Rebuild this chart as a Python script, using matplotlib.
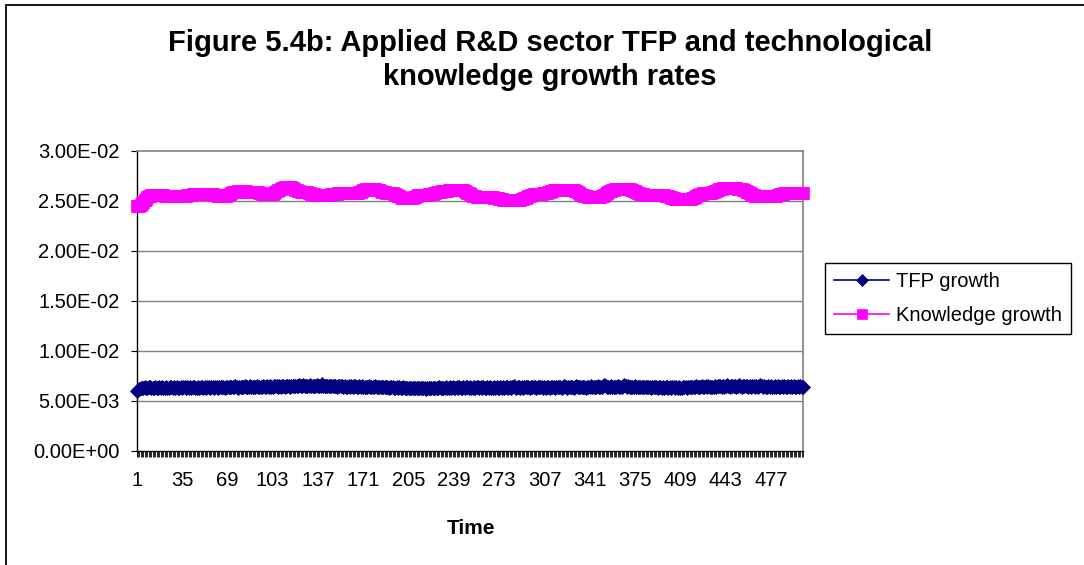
import matplotlib
matplotlib.use("Agg")
import matplotlib.pyplot as plt
from matplotlib.patches import Rectangle

plt.rcParams['font.family'] = ['Liberation Sans', 'DejaVu Sans']

# ---------------- data (growth rates in units of 1e-4) ----------------
time = list(range(1, 502))

knowledge_growth_1e4 = [
    244.5, 244.5, 245.0, 246.0, 247.5, 249.0, 250.5, 252.0, 253.5, 254.5, 255.0, 255.5, 255.8, 256.0, 256.0, 255.8, 255.6, 255.5, 255.5, 255.4,
    255.3, 255.2, 255.0, 254.9, 254.8, 254.7, 254.6, 254.6, 254.5, 254.5, 254.5, 254.6, 254.6, 254.7, 254.8, 254.9, 255.0, 255.2, 255.4, 255.6,
    255.9, 256.2, 256.5, 256.8, 257.0, 257.1, 257.2, 257.2, 257.2, 257.1, 257.0, 257.0, 257.1, 257.2, 257.2, 257.0, 256.8, 256.5, 256.2, 255.8,
    255.5, 255.2, 255.0, 254.9, 254.8, 254.8, 254.9, 255.1, 255.5, 256.0, 256.8, 257.6, 258.3, 258.8, 259.1, 259.2, 259.3, 259.3, 259.2, 259.2,
    259.2, 259.3, 259.3, 259.2, 259.1, 259.0, 259.0, 259.1, 259.2, 259.1, 258.9, 258.5, 258.0, 257.5, 257.0, 256.7, 256.5, 256.4, 256.4, 256.5,
    256.6, 256.8, 257.2, 257.8, 258.6, 259.5, 260.3, 261.0, 261.8, 262.6, 263.2, 263.6, 263.9, 264.0, 264.0, 263.8, 263.4, 262.8, 262.0, 261.2,
    260.4, 259.8, 259.4, 259.2, 259.1, 259.0, 258.9, 258.7, 258.4, 258.0, 257.5, 257.0, 256.6, 256.3, 256.1, 256.0, 255.9, 255.9, 256.0, 256.0,
    256.0, 255.9, 255.9, 256.0, 256.1, 256.2, 256.3, 256.5, 256.7, 256.9, 257.1, 257.3, 257.4, 257.5, 257.6, 257.6, 257.5, 257.5, 257.6, 257.7,
    257.8, 257.8, 257.7, 257.6, 257.6, 257.7, 258.0, 258.5, 259.1, 259.8, 260.5, 261.0, 261.4, 261.6, 261.7, 261.7, 261.6, 261.5, 261.4, 261.3,
    261.1, 260.8, 260.4, 259.8, 259.2, 258.7, 258.3, 258.1, 258.0, 258.0, 257.9, 257.8, 257.6, 257.2, 256.7, 256.0, 255.2, 254.4, 253.7, 253.1,
    252.7, 252.5, 252.4, 252.4, 252.5, 252.6, 252.8, 253.1, 253.6, 254.2, 254.8, 255.4, 255.8, 256.0, 256.1, 256.1, 256.0, 256.0, 256.1, 256.3,
    256.5, 256.8, 257.2, 257.7, 258.2, 258.6, 258.9, 259.1, 259.2, 259.3, 259.4, 259.6, 259.8, 260.1, 260.4, 260.7, 260.9, 261.0, 261.1, 261.1,
    261.1, 261.0, 260.9, 260.8, 260.6, 260.3, 259.8, 259.1, 258.2, 257.3, 256.5, 255.8, 255.2, 254.7, 254.3, 254.0, 253.9, 253.8, 253.8, 253.9,
    254.0, 254.0, 254.0, 253.9, 253.8, 253.7, 253.6, 253.4, 253.2, 252.9, 252.6, 252.3, 252.0, 251.7, 251.4, 251.2, 251.0, 250.9, 250.9, 250.9,
    251.0, 251.0, 251.1, 251.1, 251.0, 250.9, 250.9, 251.0, 251.2, 251.5, 251.9, 252.4, 253.0, 253.6, 254.3, 255.0, 255.6, 256.1, 256.5, 256.8,
    257.0, 257.1, 257.2, 257.2, 257.2, 257.3, 257.5, 257.8, 258.2, 258.7, 259.2, 259.7, 260.1, 260.4, 260.6, 260.8, 260.9, 261.0, 261.0, 261.1,
    261.1, 261.1, 261.0, 261.0, 260.9, 260.9, 260.8, 260.6, 260.3, 259.9, 259.3, 258.6, 257.8, 257.0, 256.2, 255.5, 255.0, 254.6, 254.3, 254.1,
    254.0, 253.9, 253.9, 254.0, 254.0, 253.9, 253.9, 254.0, 254.2, 254.6, 255.2, 256.0, 256.9, 257.8, 258.7, 259.5, 260.2, 260.7, 261.1, 261.4,
    261.6, 261.7, 261.7, 261.6, 261.5, 261.5, 261.6, 261.7, 261.7, 261.6, 261.4, 261.1, 260.6, 260.0, 259.3, 258.6, 257.9, 257.3, 256.8, 256.5,
    256.3, 256.1, 256.0, 255.9, 255.9, 256.0, 256.0, 256.0, 255.9, 255.9, 256.0, 256.0, 256.0, 255.9, 255.8, 255.7, 255.5, 255.2, 254.9, 254.5,
    254.1, 253.6, 253.1, 252.6, 252.2, 251.9, 251.7, 251.6, 251.5, 251.5, 251.6, 251.6, 251.5, 251.5, 251.6, 251.8, 252.1, 252.6, 253.2, 253.9,
    254.6, 255.3, 256.0, 256.6, 257.1, 257.4, 257.5, 257.5, 257.6, 257.7, 257.8, 258.1, 258.5, 259.0, 259.6, 260.2, 260.8, 261.3, 261.8, 262.2,
    262.5, 262.6, 262.7, 262.6, 262.5, 262.5, 262.5, 262.6, 262.6, 262.5, 262.4, 262.2, 262.0, 261.7, 261.4, 261.0, 260.5, 259.9, 259.2, 258.4,
    257.6, 256.8, 256.1, 255.5, 255.0, 254.7, 254.5, 254.4, 254.4, 254.5, 254.5, 254.4, 254.4, 254.5, 254.6, 254.6, 254.5, 254.5, 254.6, 254.8,
    255.1, 255.5, 256.0, 256.5, 256.9, 257.2, 257.4, 257.5, 257.5, 257.4, 257.4, 257.5, 257.6, 257.6, 257.5, 257.5, 257.6, 257.7, 257.7, 257.6,
    257.6,
]

tfp_growth_1e4 = [
    60.0, 60.8, 61.8, 62.8, 63.3, 63.0, 63.6, 63.2, 62.9, 63.5, 63.8, 63.1, 63.4, 63.0, 63.7, 63.3, 62.8, 63.5, 63.2, 63.9,
    63.4, 63.0, 63.6, 63.3, 62.9, 63.5, 64.0, 63.2, 63.6, 63.1, 63.8, 63.4, 62.9, 63.6, 63.2, 63.9, 63.5, 63.0, 63.7, 63.3,
    63.8, 63.1, 63.5, 64.1, 63.4, 63.0, 63.7, 63.3, 63.9, 63.5, 63.1, 63.8, 63.4, 64.2, 63.6, 63.2, 63.9, 63.5, 63.1, 63.7,
    64.0, 63.4, 63.9, 63.5, 64.3, 63.7, 63.2, 63.9, 64.4, 63.6, 63.8, 64.2, 63.5, 63.9, 64.5, 63.8, 63.4, 64.1, 63.7, 64.3,
    63.9, 64.5, 64.0, 63.6, 64.2, 64.8, 64.1, 63.7, 64.3, 63.9, 64.6, 64.2, 63.8, 64.4, 64.0, 64.7, 64.3, 63.9, 64.5, 64.1,
    64.8, 64.4, 64.0, 64.6, 65.2, 64.5, 64.1, 64.7, 64.3, 65.0, 64.6, 64.2, 64.9, 65.3, 64.7, 64.4, 65.0, 64.6, 65.4, 64.9,
    64.5, 65.1, 65.6, 64.9, 65.3, 66.3, 65.4, 64.9, 65.2, 65.0, 65.5, 65.1, 64.8, 65.4, 65.0, 65.7, 65.2, 64.8, 65.3, 66.5,
    65.4, 64.9, 65.2, 64.7, 65.1, 64.8, 65.3, 64.6, 65.0, 64.7, 64.3, 64.9, 64.5, 65.1, 64.6, 64.2, 64.8, 64.4, 64.0, 64.6,
    64.3, 64.8, 64.1, 64.5, 64.9, 64.2, 63.9, 64.5, 64.1, 64.7, 64.3, 63.8, 64.4, 64.0, 64.6, 64.2, 63.7, 64.3, 63.9, 64.5,
    64.0, 63.6, 64.2, 63.8, 64.4, 63.9, 63.5, 64.1, 63.7, 63.3, 63.9, 63.5, 64.0, 63.4, 63.0, 63.6, 63.2, 63.8, 63.3, 62.9,
    63.5, 63.1, 62.7, 63.3, 62.9, 63.4, 63.0, 62.5, 63.2, 62.8, 63.4, 62.9, 62.6, 63.1, 62.7, 63.3, 62.9, 62.4, 63.0, 62.6,
    63.2, 62.8, 63.4, 63.0, 62.6, 63.3, 62.9, 63.5, 63.1, 62.7, 63.4, 63.0, 63.6, 63.2, 62.8, 63.5, 63.1, 63.8, 63.3, 62.9,
    63.6, 63.2, 63.9, 63.4, 63.0, 63.7, 63.3, 64.0, 63.5, 63.1, 63.8, 63.4, 63.0, 63.6, 63.2, 63.9, 63.5, 63.1, 63.7, 63.3,
    63.9, 63.4, 63.0, 63.6, 63.2, 63.8, 63.4, 62.9, 63.5, 63.1, 63.7, 63.3, 62.9, 63.6, 63.2, 63.8, 63.4, 63.9, 63.5, 63.1,
    63.7, 63.3, 63.9, 64.6, 63.8, 63.4, 64.0, 63.6, 63.2, 63.8, 63.4, 64.0, 63.6, 64.2, 63.7, 63.3, 63.9, 63.5, 64.1, 63.7,
    63.3, 63.9, 63.5, 64.1, 63.6, 63.2, 63.8, 63.4, 64.0, 63.5, 63.1, 63.7, 64.3, 63.8, 63.4, 64.0, 63.6, 64.2, 63.7, 63.3,
    63.9, 64.5, 63.8, 63.4, 64.0, 63.6, 64.2, 63.8, 63.4, 64.0, 64.6, 63.9, 63.5, 64.1, 63.7, 64.3, 63.8, 63.4, 64.0, 63.6,
    64.2, 64.8, 64.1, 63.7, 64.3, 63.9, 64.5, 64.0, 63.6, 64.2, 64.9, 66.0, 64.6, 64.1, 64.4, 63.9, 64.5, 64.1, 63.7, 64.3,
    63.9, 64.5, 64.1, 63.6, 64.2, 65.0, 66.2, 64.8, 64.2, 64.6, 64.1, 63.7, 64.3, 63.9, 64.5, 64.0, 63.6, 64.2, 63.8, 64.4,
    63.9, 63.5, 64.1, 63.7, 64.3, 63.8, 63.4, 64.0, 63.6, 64.2, 63.8, 63.4, 64.0, 63.6, 63.2, 63.8, 63.4, 64.0, 63.5, 63.1,
    63.7, 63.3, 63.9, 63.5, 63.1, 63.7, 63.3, 63.9, 63.4, 63.0, 63.6, 64.2, 63.8, 63.4, 64.0, 63.6, 64.2, 63.7, 64.3, 63.9,
    64.5, 64.0, 63.6, 64.2, 64.8, 64.3, 63.9, 64.5, 64.1, 64.7, 64.2, 63.8, 64.4, 64.0, 64.6, 64.2, 64.8, 65.3, 64.6, 64.2,
    64.7, 64.3, 64.9, 66.2, 64.8, 64.3, 64.9, 64.5, 65.1, 64.6, 64.2, 64.8, 65.5, 64.9, 64.4, 64.9, 64.5, 65.1, 64.6, 64.2,
    64.8, 64.3, 64.9, 64.5, 64.1, 64.7, 64.3, 64.9, 65.6, 64.8, 64.3, 64.9, 64.4, 64.0, 64.6, 64.2, 64.8, 64.4, 64.0, 64.6,
    64.2, 64.8, 64.3, 63.9, 64.5, 64.1, 64.7, 64.3, 63.9, 64.5, 64.1, 64.6, 64.2, 64.8, 64.4, 64.0, 64.6, 64.2, 64.7, 64.3,
    64.4,
]

series_names = ["TFP growth", "Knowledge growth"]
y_ticks = [0.0, 0.005, 0.010, 0.015, 0.020, 0.025, 0.030]
x_label_ticks = list(range(1, 502, 34))
title = "Figure 5.4b: Applied R&D sector TFP and technological\nknowledge growth rates"
x_title = "Time"

SCALE = 1e-4
tfp = [v * SCALE for v in tfp_growth_1e4]
know = [v * SCALE for v in knowledge_growth_1e4]

# ---------------- figure ----------------
W, H = 1084, 565
fig = plt.figure(figsize=(W / 100, H / 100), dpi=100)
fig.patch.set_facecolor("white")

# outer chart border (left/top visible)
fig.patches.append(Rectangle((6 / W, -0.2), 1.2, 1.2 - 5 / H, transform=fig.transFigure,
                             fill=False, edgecolor="black", linewidth=1.3))

L, R, T, B = 136.7, 803, 150.7, 451
ax = fig.add_axes([L / W, 1 - B / H, (R - L) / W, (B - T) / H])
ax.set_facecolor("white")

for y in y_ticks[1:-1]:
    ax.axhline(y, color="#808080", linewidth=1.0, zorder=1)

ax.plot(time, tfp, color="#000080", marker="D", markersize=7.0, markeredgewidth=0.5,
        linewidth=1.2, label=series_names[0], zorder=3, clip_on=False)
ax.plot(time, know, color="#FF00FF", marker="s", markersize=8.3, markeredgewidth=0.5,
        linewidth=1.2, label=series_names[1], zorder=3, clip_on=False)

ax.set_xlim(1, 501)
ax.set_ylim(0, 0.03)

ax.set_yticks(y_ticks)
ax.set_yticklabels([f"{v:.2E}" for v in y_ticks])
ax.set_xticks(x_label_ticks)
ax.set_xticklabels([str(v) for v in x_label_ticks])
ax.set_xticks(time, minor=True)

ax.tick_params(axis="y", direction="out", length=4.3, width=0.8, color="black",
               labelsize=14.5, pad=8)
ax.tick_params(axis="x", which="both", direction="out", length=4.1, width=0.6,
               color="black", labelsize=14.5, pad=10.5)

for side in ("top", "right"):
    ax.spines[side].set_color("#808080")
    ax.spines[side].set_linewidth(1.2)
for side in ("left", "bottom"):
    ax.spines[side].set_color("black")
    ax.spines[side].set_linewidth(1.0)

fig.text(550 / W, 1 - 59.8 / H, title, ha="center", va="center", fontsize=21,
         fontweight="bold", linespacing=1.25)
fig.text(471 / W, 1 - 528 / H, x_title, ha="center", va="center", fontsize=15,
         fontweight="bold")

leg = ax.legend(loc="upper left", bbox_to_anchor=(825 / W, 1 - 262.7 / H),
                bbox_transform=fig.transFigure, fontsize=14.5, frameon=True,
                fancybox=False, framealpha=1, edgecolor="black", numpoints=1,
                handlelength=2.75, handletextpad=0.35, borderpad=0.45,
                labelspacing=0.75, borderaxespad=0)
leg.get_frame().set_linewidth(1.0)
for h in leg.legend_handles:
    h.set_markersize(h.get_markersize() * 0.9)

fig.savefig("out.png", dpi=100, facecolor="white")
